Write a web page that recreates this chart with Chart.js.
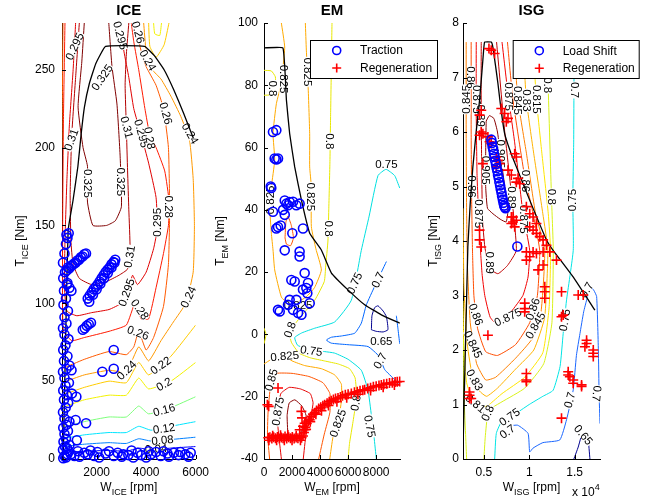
<!DOCTYPE html>
<html><head><meta charset="utf-8">
<script src="https://cdn.jsdelivr.net/npm/chart.js@4.4.1/dist/chart.umd.min.js"></script>
<style>
html,body{margin:0;padding:0;background:#fff;}
#wrap{position:relative;width:656px;height:502px;background:#fff;overflow:hidden;}
canvas{position:absolute;top:0;}
</style></head><body>
<div id="wrap">
<canvas id="cIce" width="215" height="502" style="left:0px"></canvas>
<canvas id="cEm" width="240" height="502" style="left:205px"></canvas>
<canvas id="cIsg" width="236" height="502" style="left:420px"></canvas>
</div>
<script>
const FONT = '"Liberation Sans", Arial, Helvetica, sans-serif';

/* ================= ICE ================= */
const iceXTicks = [2000, 4000, 6000];
const iceYTicks = [0, 50, 100, 150, 200, 250];
const iceMaxTorque = [[650,0],[750,80],[848,147],[1045,166],[1243,188],[1376,209],[1506,226],[1703,241],[1967,254],[2361,265],[3937,265],[4331,259],[4725,250],[5119,237],[5513,222],[5907,206]];
const iceOperating = [
 [960,3],[1100,2],[1240,5],[1310,1.5],[1500,4],[1640,3],[1750,5.5],[1900,2],[2030,4.5],[2100,1],[2360,3.5],[2500,5],[2690,2],[2850,4],[3015,1.5],[3080,3],[3280,2.5],[3410,5.5],[3480,1],[3650,4],[3800,2.5],[4000,1],[4100,5],[4200,3],[4400,4.5],[4590,2],[4700,5],[4860,3.5],[4920,1.5],[5120,4],[5310,2.5],[5380,4.5],[5580,3],[5710,1.5],[5800,4],
 [650,0.5],[700,2],[760,1],[820,3],[880,5],[640,6],[720,8],[800,7],[900,9],[660,11],[760,13],[700,16],[840,18],[650,20],[780,22],[700,26],[900,24],[640,30],[750,33],[850,36],[680,38],[800,41],[650,44],[740,47],[880,49],[700,52],[640,56],[780,58],[900,60],[680,63],[820,66],[650,70],[740,73],[860,77],[700,80],[640,84],[780,87],[700,91],[840,95],[660,99],[760,103],[680,108],[800,112],[650,116],[720,120],[640,126],[700,132],[760,138],[820,142],[870,145],[780,144],
 [1180,40],[1000,42],[1573,23],[985,57],[2230,56],[2690,58],[2690,70],[1150,25],[1200,12],[900,110],[980,108],[820,113],
 [790,121],[840,123],[900,122.5],[960,124],[1020,124.5],[1090,125.5],[1150,126],[1220,127.5],[1290,128],[1360,129.5],[1430,130],[1500,131.5],[1570,132],
 [1640,103],[1720,105],[1800,107],[1880,109],[1960,110.5],[2040,112],[2120,114],[2200,116],[2280,118],[2360,120],[2440,121.5],[2520,123],[2600,125],[2680,126.5],[2750,128],
 [1700,101],[1850,105.5],[2000,109],[2150,112.5],[2300,116],[2450,119.5],[2600,123],[2720,126],
 [1440,83],[1520,84],[1600,85.5],[1680,86.5],[1770,87.5]
];
const ice_004 = [[600,4],[1500,5],[2500,5.5],[3200,5],[3700,7],[4200,6],[5000,7],[6000,8]];
const ice_008 = [[600,8],[1500,9.5],[2500,10.5],[3200,10],[3700,13],[4200,11.5],[5000,12.5],[6000,14]];
const ice_012 = [[600,13],[1500,15.5],[2500,17],[3200,17],[3700,21],[4200,18.5],[5000,21],[6000,24]];
const ice_016 = [[600,20],[1500,24],[2500,27],[3200,27],[3700,34],[4100,29],[5000,33],[6000,40]];
const ice_020 = [[600,33],[1500,38],[2500,41],[3200,41],[3700,52],[4100,45],[5000,50],[6000,62]];
const ice_020b = [[4300,280],[4350,273],[4550,272],[4620,280]];
const ice_022 = [[600,41],[1500,46],[2500,50],[3200,49],[3700,62],[4100,54],[5000,66],[6000,86]];
const ice_022b = [[4100,280],[4150,265],[4400,258],[4725,266],[4922,280]];
const ice_024 = [[600,49],[1500,54],[2500,57],[3200,56],[3700,72],[4100,63],[4600,76],[5100,88],[5600,100],[5900,120],[5950,150],[5900,180],[5750,205],[5400,220],[5000,233],[4600,244],[4250,250],[4000,262],[3900,280]];
const ice_026 = [[600,58],[1500,64],[2500,69],[3200,67],[3500,72],[3700,82],[4000,70],[4300,78],[4700,98],[4900,125],[4950,160],[4900,200],[4700,225],[4400,240],[4000,252],[3750,265],[3650,280]];
const ice_026b = [[640,280],[615,230],[600,200]];
const ice_028 = [[720,280],[660,220],[630,160],[620,110],[660,82],[1000,76],[1500,78],[2500,82],[3200,86],[3550,100],[3800,90],[4100,90],[4400,110],[4700,132],[4900,150],[4930,165],[4750,185],[4400,200],[4150,208],[3950,225],[3700,250],[3500,268],[3400,280]];
const ice_0295 = [[1150,280],[1050,250],[900,215],[800,180],[720,140],[700,110],[800,95],[1200,92],[1800,94],[2500,96],[3000,100],[3250,106],[3450,118],[3650,112],[4000,120],[4300,135],[4450,148],[4400,168],[4100,190],[3800,208],[3500,225],[3300,245],[3100,262],[2950,280]];
const ice_031 = [[1300,280],[1150,245],[990,207],[930,170],[960,140],[1050,125],[1300,116],[1800,112],[2400,114],[2900,118],[3250,122],[3350,135],[3300,160],[3250,185],[3200,213],[3150,240],[3200,260],[3300,280]];
const ice_0325 = [[1500,280],[1400,255],[1250,226],[1450,200],[1630,188],[1630,165],[1850,150],[2400,150],[2755,153],[3000,162],[2950,194],[2820,228],[2620,252],[2490,280]];
const iceContours = [[0.04,ice_004],[0.08,ice_008],[0.12,ice_012],[0.16,ice_016],[0.2,ice_020],[0.2,ice_020b],[0.22,ice_022],[0.22,ice_022b],[0.24,ice_024],[0.26,ice_026],[0.26,ice_026b],[0.28,ice_028],[0.295,ice_0295],[0.31,ice_031],[0.325,ice_0325]];
const iceLabels = [['0.24',3213,57,-45],['0.22',4591,60,-35],['0.2',4725,48,-30],['0.16',4725,31.5,-15],['0.12',4725,19.5,-8],['0.08',4660,12,-5],['0.04',4400,6.5,-3],['0.26',3673,81,20],['0.28',3740,96,55],['0.295',3213,107,-70],['0.31',3330,130,-80],['0.24',5710,104,-65],['0.325',2227,245,-55],['0.325',1630,177,90],['0.325',2975,178,90],['0.31',3213,213,75],['0.295',3804,209,75],['0.28',4134,206,80],['0.28',4922,162,90],['0.295',4450,152,-90],['0.26',4790,222,75],['0.24',4067,256,60],['0.24',5774,209,60],['0.26',3673,274,75],['0.295',2950,272,75],['0.295',1112,265,-65],['0.31',982,205,-70]];
const iceColors = {0.04:'#0000ff',0.08:'#0080ff',0.12:'#00e5ff',0.16:'#7dff7a',0.2:'#f2f200',0.22:'#ffcc00',0.24:'#ff9900',0.26:'#ff5a00',0.28:'#ff1a00',0.295:'#e00000',0.31:'#b30000',0.325:'#800000'};

/* ================= EM ================= */
const emXTicks = [0, 2000, 4000, 6000, 8000];
const emYTicks = [-40, -20, 0, 20, 40, 60, 80, 100];
const emMaxTorque = [[0,92],[1350,92],[1600,75.2],[1830,64.5],[2190,53.8],[2670,43.1],[3260,32.5],[4090,27.1],[4810,19.7],[5990,14.3],[7180,9.5],[8370,6.3],[9680,3.6]];
const emTraction = [[640,65],[880,65.6],[760,56.5],[880,56.2],[1000,56.5],[480,47.5],[520,47],[640,39.4],[1480,43],[1600,42],[1830,42.5],[2070,42.6],[2310,41.5],[2540,42],[1720,41.5],[1360,40],[1480,38.4],[880,34],[1000,34.5],[1190,35],[2020,32.5],[2780,34],[1480,27],[2540,26.6],[2540,25],[1950,17.5],[2190,17],[2900,19.7],[3140,16.5],[3020,14.9],[2780,14.4],[3090,13.2],[2310,11.1],[1710,9.5],[2070,7.9],[2430,6.9],[2670,6.3],[3260,10],[1000,7.9],[1120,7.4],[1830,11.1]];
const emRegen = [[300,-33.2],[420,-33],[560,-33.4],[690,-33],[820,-33.3],[960,-32.9],[1090,-33.4],[1230,-33.1],[1360,-33.3],[1500,-32.8],[1620,-33.4],[1760,-33],[1890,-33.3],[2020,-32.9],[2150,-33.4],[2290,-33.1],[2420,-33.3],[2560,-32.8],[2680,-33.2],[2780,-32.6],
 [350,-34],[620,-32.5],[900,-34],[1180,-32.4],[1450,-34],[1700,-32.3],[2000,-34],[2300,-32.5],[2600,-34],
 [2850,-31.5],[2900,-30.6],[2950,-29.8],[3050,-28.6],[3150,-27.8],[3258,-27.4],[3380,-26.3],[3500,-25.6],[3615,-25.2],[3750,-24.4],[3900,-23.8],[4050,-23.4],[4200,-22.9],[4328,-22.6],[4500,-22.1],[4650,-21.6],[4800,-21.3],[4950,-20.9],[5100,-20.6],[5278,-20.4],[5450,-20.1],[5600,-19.7],[5800,-19.4],[6000,-19.2],[6229,-19.0],[6450,-18.6],[6650,-18.4],[6850,-18.1],[7050,-17.9],[7180,-17.8],[7400,-17.4],[7600,-17.1],[7800,-16.8],[8000,-16.6],[8200,-16.4],[8368,-16.2],[8550,-16.0],[8750,-15.8],[8950,-15.6],[9150,-15.5],[9350,-15.3],[9500,-15.2],[9675,-15.1],
 [3000,-30.5],[3300,-28],[3700,-25.6],[4100,-24.5],[4600,-22.8],[5200,-21.6],[5900,-20.3],[6700,-19.2],[7600,-18],[8500,-17],[9300,-16.2],
 [1000,-17.2],[240,-22.6],[335,-23.1],[2665,-24.7],[2711,-26.8],[2902,-28.5],[2546,-30.6],[2783,-29.5]];
const em_065 = [[7660,1.5],[7700,6],[7890,8.6],[8130,9.2],[8500,7.5],[8730,5.7],[8840,1.5],[8500,0.8],[8000,1],[7660,1.5]];
const em_070 = [[8730,23.4],[7890,15.4],[7300,9.5],[6940,3.6],[6470,0.4],[5520,-0.5],[4810,-0.9],[4450,-1.8],[4800,-2.8],[5990,-3.3],[7420,-3.9],[8200,-7],[8610,-11.3],[9320,-14.5],[9680,-16]];
const em_070b = [[9440,6],[9550,2],[9680,-3]];
const em_075 = [[9680,47],[9320,51],[8700,53],[8130,51],[7500,38],[6940,27],[6230,11],[5040,4],[3620,2],[2700,0.5],[2190,-1],[2400,-3.5],[3377,-5],[4300,-5.5],[5040,-6],[6000,-8],[6940,-11.5],[7420,-18],[7660,-26],[7850,-33],[8010,-40]];
const em_080 = [[4850,100],[4800,85],[4750,70],[4700,55],[4620,40],[4560,30],[4400,22],[4300,17],[3620,11],[2670,6],[2070,2.5],[1832,0.5],[1950,-2.5],[2500,-6],[3300,-7.5],[4300,-8.5],[5300,-9.5],[6100,-11],[6500,-14],[6600,-20],[6350,-28],[6100,-35],[6000,-40]];
const em_080b = [[0,84.8],[525,84.6],[811,82.7],[800,80],[500,77],[0,76.8]];
const em_080c = [[0,2],[150,0],[0,-3]];
const em_0825a = [[1239,100],[1477,92.3],[1358,85.9],[1239,80.6],[882,74.1],[644,64.5],[763,56],[525,47.4],[406,41],[525,32.5],[644,27.1],[763,20.7],[1238,12],[1700,10],[2427,10.5],[3000,12],[3600,15],[4090,20.7],[3700,27.5],[3377,34.6],[3377,47.4],[3258,53.8],[3258,64.5],[3139,80.6],[3020,91.3],[2949,100]];
const em_0825b = [[0,-9.5],[530,-8],[1476,-7],[2000,-8.5],[2900,-10],[4090,-11],[5040,-13],[5520,-16],[5500,-22],[5280,-28.5],[4920,-33],[4690,-40]];
const em_085 = [[400,-40],[250,-32],[300,-24],[525,-14.6],[900,-12.5],[2000,-12.5],[3200,-13.5],[4200,-15.5],[4700,-19],[4700,-25],[4300,-32],[3900,-40]];
const em_085b = [[1500,31],[1560,36],[1700,38],[1950,35],[2100,31],[1900,28.5],[1600,29],[1500,31]];
const em_0875 = [[1240,-40],[1000,-30],[1000,-24.7],[1200,-19],[1800,-17],[2600,-17.5],[3300,-19],[3500,-22],[3300,-27],[3000,-32],[2800,-40]];
const em_090 = [[1700,-32],[1650,-26],[1800,-22],[2200,-21],[2700,-23],[3000,-26],[2800,-30],[2400,-33],[1900,-34],[1700,-32]];
const emContours = [[0.65,em_065],[0.7,em_070],[0.7,em_070b],[0.75,em_075],[0.8,em_080],[0.8,em_080b],[0.8,em_080c],[0.825,em_0825a],[0.825,em_0825b],[0.85,em_085],[0.85,em_085b],[0.875,em_0875],[0.9,em_090]];
const emLabels = [['0.8',644,79,90],['0.825',1380,82,90],['0.825',3139,84.3,90],['0.8',4700,62,90],['0.825',3300,44.2,90],['0.825',420,43.2,-90],['0.75',8725,54.5,0],['0.8',4600,34,90],['0.825',2427,9.5,0],['0.75',6467,16.4,-65],['0.7',8130,17.5,-65],['0.65',8368,-2.2,0],['0.8',1860,1.5,-70],['0.75',3377,-5.3,8],['0.825',1476,-7,-5],['0.85',525,-14.6,-75],['0.875',1000,-24.7,-80],['0.825',5278,-28.5,-70],['0.8',6550,-22,-80],['0.75',7536,-29.5,80],['0.7',8300,-8.5,-60]];
const emColors = {0.65:'#00008f',0.7:'#0066ff',0.75:'#00e0e0',0.8:'#e8e800',0.825:'#ffaa00',0.85:'#ff5500',0.875:'#e60000',0.9:'#8c0000'};

/* ================= ISG ================= */
const isgXTicks = [5000, 10000, 15000];
const isgYTicks = [0, 1, 2, 3, 4, 5, 6, 7, 8];
const isgMaxTorque = [[2680,0],[2870,1.39],[3050,2.6],[3234,3.89],[3500,4.7],[3787,5.36],[4150,6.0],[4525,6.58],[4710,6.95],[4890,7.32],[5080,7.65],[5815,7.65],[6000,7.55],[6300,7.2],[6550,6.89],[6900,6.4],[7290,5.97],[7900,5.65],[8580,5.36],[10050,4.75],[11900,4.02],[12630,3.83],[14840,3.34],[17240,2.73]];
const isgLoadShift = [[5820,5.86],[5890,5.80],[5960,5.73],[6040,5.67],[6110,5.60],[6190,5.54],[6260,5.47],[6340,5.41],[6410,5.34],[6490,5.28],[6560,5.21],[6640,5.15],[6710,5.08],[6790,5.02],[6860,4.95],[6940,4.89],[7010,4.82],[7090,4.76],[7160,4.70],[7240,4.65],[7310,4.62],[7380,4.60],[8690,3.9]];
const isgRegen = [[5560,7.53],[5815,7.50],[6184,7.44],[4709,6.40],[4525,6.31],[4709,6.00],[4893,5.97],[4525,5.94],[6921,6.43],[7290,6.34],[7658,6.25],[7474,6.19],[5446,5.91],[5631,5.82],[5815,5.79],[6368,5.54],[6553,5.48],[6737,5.42],[6368,5.36],[4893,5.42],[8396,5.60],[8580,5.54],[7658,5.30],[8028,5.21],[8765,5.15],[8949,5.05],[8580,5.08],[8028,4.44],[8580,4.38],[8212,4.35],[9686,4.63],[10055,4.50],[10424,4.44],[10792,4.32],[10055,4.26],[10424,4.20],[10792,4.14],[11161,4.08],[11530,4.02],[11899,3.92],[4525,4.20],[4525,4.02],[4709,3.89],[8212,4.44],[8028,4.32],[8396,4.26],
 [9686,3.80],[10055,3.71],[10424,3.80],[10792,3.77],[11530,3.80],[12267,3.80],[9686,3.65],[11530,3.56],[13004,3.65],[10976,3.47],[11714,3.16],[11714,3.07],[11714,2.95],[13558,3.07],[9502,2.86],[9502,2.76],[9502,2.70],[13741,2.64],[13558,2.61],[15400,3.01],[15953,3.01],[16322,2.18],[16322,2.12],[16138,2.06],[17060,2.00],[17060,1.94],[17060,1.88],[14294,1.60],[14294,1.54],[14479,1.51],[14847,1.45],[14847,1.39],[15769,1.36],[15769,1.33],[5446,2.27],[9686,1.57],[9686,1.45],[9686,1.42],[13558,0.75],[3419,1.23],[3419,1.17],[3603,1.11],[3419,1.11]];
const isg_065a = [[14920,0],[15400,0.22],[15700,0.4]];
const isg_065b = [[16500,0.38],[16690,0]];
const isg_070 = [[7000,0.4],[7840,0.6],[8730,0.62],[9870,0.47],[10050,0.13],[10420,0.2],[11500,0.3],[13370,0.35],[14110,0.72],[14850,1.27],[15200,1.9],[15590,2.3],[16000,2.7],[16330,2.92],[16700,3.16],[17100,3.1],[17430,2.98],[17620,2.0],[17700,1.2],[17800,0.65]];
const isg_075 = [[6190,0],[6370,0.47],[7000,0.7],[8210,0.8],[10000,1.0],[11500,1.15],[12630,1.26],[13400,1.7],[13740,2.3],[14100,2.9],[14850,3.83],[14800,4.75],[14900,5.8],[14950,7.65]];
const isg_080 = [[5000,0],[5150,0.4],[5440,0.84],[6000,0.95],[7000,1.05],[9500,1.3],[11600,1.75],[12500,2.5],[12650,3.83],[12450,4.81],[12080,6.86],[11900,7.65]];
const isg_080b = [[2750,2.2],[2850,1.0],[3000,0.4],[3100,0]];
const isg_0815 = [[2700,2.9],[2800,2.0],[3100,1.4],[3700,1.1],[4340,0.96],[5000,0.95],[5600,1.0],[7000,1.2],[9500,1.5],[11500,1.95],[12200,2.8],[12350,3.83],[12100,4.5],[11400,5.6],[10790,6.6],[10400,7.65]];
const isg_083 = [[2700,4.6],[2800,3.2],[3100,2.2],[3700,1.55],[4500,1.25],[5300,1.15],[6500,1.3],[8500,1.65],[10500,2.0],[11700,2.6],[12050,3.83],[11500,4.5],[10500,5.6],[9690,6.58],[9300,7.65]];
const isg_0845 = [[3050,7.65],[3050,6.0],[3100,4.5],[3200,3.5],[3500,2.5],[4200,1.75],[5200,1.45],[6300,1.5],[8500,1.85],[10300,2.2],[11300,2.7],[11700,3.83],[10700,4.5],[9700,5.6],[8760,6.58],[8300,7.65]];
const isg_086 = [[3600,7.65],[3600,6.0],[3650,4.8],[3750,3.8],[3900,3.0],[4300,2.4],[5200,1.97],[6500,1.9],[8500,2.1],[10050,2.5],[10900,3.0],[11150,3.83],[10300,4.6],[9500,5.18],[8200,6.6],[7600,7.65]];
const isg_0875 = [[4160,7.65],[4150,6.5],[4250,5.2],[4500,4.2],[4800,3.4],[5100,3.0],[5700,2.6],[6600,2.45],[8000,2.7],[9300,3.0],[9870,3.34],[10050,3.83],[9320,4.5],[8400,5.8],[7660,6.7],[7000,7.65]];
const isg_089 = [[4710,7.65],[4700,6.8],[4750,5.5],[4850,4.4],[5100,3.9],[5600,3.5],[6550,3.4],[7600,3.55],[8580,3.83],[8030,4.87],[7300,6.0],[6400,7.65]];
const isg_0905 = [[5250,6.2],[5600,6.3],[6100,6.25],[6500,6.0],[6900,5.5],[7300,5.0],[7650,4.55],[7450,4.35],[6800,4.4],[6000,4.5],[5400,4.6],[5200,5.0],[5200,5.6],[5250,6.2]];
const isgContours = [[0.65,isg_065a],[0.65,isg_065b],[0.7,isg_070],[0.75,isg_075],[0.8,isg_080],[0.8,isg_080b],[0.815,isg_0815],[0.83,isg_083],[0.845,isg_0845],[0.86,isg_086],[0.875,isg_0875],[0.89,isg_089],[0.905,isg_0905]];
const isgLabels = [['0.845',3080,6.6,-90],['0.86',3600,7.0,90],['0.875',4160,6.6,90],['0.89',4700,6.3,90],['0.86',3620,5.0,90],['0.875',4480,4.5,90],['0.905',5220,5.3,90],['0.905',6800,5.6,90],['0.89',8100,4.8,90],['0.875',7700,6.65,90],['0.845',8760,6.58,90],['0.83',9690,6.58,90],['0.815',10790,6.6,90],['0.8',12080,6.86,90],['0.7',14980,6.77,90],['0.75',14800,4.75,-90],['0.8',12450,4.81,90],['0.86',9600,5.1,90],['0.875',9400,4.4,90],
 ['0.89',5631,3.6,90],['0.875',7660,2.6,-25],['0.86',4100,2.65,70],['0.86',10400,2.75,-70],['0.845',3790,2.1,65],['0.845',10700,2.45,-60],['0.83',3970,1.45,60],['0.815',4340,0.98,40],['0.8',5440,0.84,-65],['0.75',7840,0.77,-35],['0.7',7600,0.5,-35],['0.75',13926,2.55,-80],['0.7',14480,1.08,-75],['0.7',17430,1.2,95],['0.7',16330,3.1,-60],['0.65',15960,0.44,50]];
const isgColors = {0.65:'#00008f',0.7:'#1a66ff',0.75:'#00e5e5',0.8:'#d9f21a',0.815:'#ffe600',0.83:'#ffb300',0.845:'#ff8000',0.86:'#ff4d00',0.875:'#f20000',0.89:'#c00000',0.905:'#880000'};

/* ================= drawing helpers ================= */
function toXY(a){ return a.map(p => ({x:p[0], y:p[1]})); }

function drawRich(ctx, parts, x, y, align, rotate){
  ctx.save();
  ctx.translate(x, y);
  if (rotate) ctx.rotate(-Math.PI/2);
  const fontOf = k => (k ? '9px ' : '12px ') + FONT;
  const widths = parts.map(p => { ctx.font = fontOf(p[1]); return ctx.measureText(p[0]).width; });
  const total = widths.reduce((s,w) => s + w, 0);
  let cx = align === 'center' ? -total/2 : (align === 'right' ? -total : 0);
  ctx.textAlign = 'left'; ctx.textBaseline = 'alphabetic'; ctx.fillStyle = '#000';
  parts.forEach((p,i) => {
    ctx.font = fontOf(p[1]);
    const dy = p[1] === 1 ? 4 : (p[1] === 2 ? -6 : 0);
    ctx.fillText(p[0], cx, dy);
    cx += widths[i];
  });
  ctx.restore();
}

function drawLegend(ctx, L, off){
  const x = L.box[0] - off, y = L.box[1];
  ctx.fillStyle = '#fff'; ctx.fillRect(x, y, L.box[2], L.box[3]);
  ctx.strokeStyle = '#000'; ctx.lineWidth = 1; ctx.strokeRect(x + 0.5, y + 0.5, L.box[2], L.box[3]);
  L.items.forEach((it, i) => {
    const my = L.rows[i], mx = L.markerX - off;
    ctx.lineWidth = 1.6;
    ctx.beginPath();
    if (it[0] === 'circle') { ctx.strokeStyle = '#0000ff'; ctx.arc(mx, my, 4, 0, 2*Math.PI); }
    else { ctx.strokeStyle = '#ff0000'; ctx.moveTo(mx-4.5, my); ctx.lineTo(mx+4.5, my); ctx.moveTo(mx, my-4.5); ctx.lineTo(mx, my+4.5); }
    ctx.stroke();
    ctx.fillStyle = '#000'; ctx.font = '12px ' + FONT; ctx.textAlign = 'left'; ctx.textBaseline = 'middle';
    ctx.fillText(it[1], L.textX - off, my + 0.5);
  });
}

function makeOverlay(spec){
  return {
    id: 'overlay',
    beforeDatasetDraw(chart, args){
      if (args.index !== spec.boundaryIndex) return;
      const ctx = chart.ctx, xs = chart.scales.x, ys = chart.scales.y;
      ctx.save();
      ctx.font = '11.5px ' + FONT; ctx.textAlign = 'center'; ctx.textBaseline = 'middle';
      spec.labels.forEach(l => {
        const px = xs.getPixelForValue(l[1]), py = ys.getPixelForValue(l[2]);
        ctx.save(); ctx.translate(px, py); ctx.rotate(l[3]*Math.PI/180);
        const w = ctx.measureText(l[0]).width;
        ctx.fillStyle = '#fff'; ctx.fillRect(-w/2 - 0.5, -4, w + 1, 8);
        ctx.fillStyle = '#000'; ctx.fillText(l[0], 0, 0.5);
        ctx.restore();
      });
      ctx.restore();
    },
    afterDraw(chart){
      const ctx = chart.ctx, a = chart.chartArea, off = spec.offset;
      const xs = chart.scales.x, ys = chart.scales.y;
      ctx.save();
      ctx.strokeStyle = '#000'; ctx.lineWidth = 1;
      ctx.beginPath();
      spec.xticks.forEach(v => { const p = Math.round(xs.getPixelForValue(v)) + 0.5; ctx.moveTo(p, a.bottom); ctx.lineTo(p, a.bottom - 4); });
      spec.yticks.forEach(v => { const p = Math.round(ys.getPixelForValue(v)) + 0.5; ctx.moveTo(a.left, p); ctx.lineTo(a.left + 4, p); });
      ctx.stroke();
      ctx.fillStyle = '#000'; ctx.font = 'bold 15px ' + FONT; ctx.textAlign = 'center'; ctx.textBaseline = 'alphabetic';
      ctx.fillText(spec.title, (a.left + a.right)/2, 14.5);
      drawRich(ctx, spec.xTitle, (a.left + a.right)/2, 491, 'center', false);
      drawRich(ctx, spec.yTitle, spec.yTitleX - off, (a.top + a.bottom)/2, 'center', true);
      if (spec.extra) drawRich(ctx, spec.extra.parts, spec.extra.x - off, spec.extra.y, 'left', false);
      if (spec.legend) drawLegend(ctx, spec.legend, off);
      ctx.restore();
    }
  };
}

function build(canvasId, spec){
  const ds = [];
  spec.scatters.forEach(s => ds.push({
    label: s.label, data: toXY(s.data), showLine: false,
    pointStyle: s.style, pointRadius: s.r, pointHoverRadius: s.r, pointBorderWidth: 1.6,
    pointBorderColor: s.color, pointBackgroundColor: 'rgba(0,0,0,0)',
    borderColor: s.color, backgroundColor: 'rgba(0,0,0,0)', clip: false
  }));
  spec.boundaryIndex = ds.length;
  ds.push({ data: toXY(spec.boundary), showLine: true, borderColor: '#000', borderWidth: 1.3,
    pointRadius: 0, pointHoverRadius: 0, tension: 0.1, fill: false });
  spec.contours.forEach(c => ds.push({ data: toXY(c[1]), showLine: true, borderColor: spec.colors[c[0]],
    borderWidth: 1, pointRadius: 0, pointHoverRadius: 0, tension: 0.15, fill: false }));
  const tickFont = { family: FONT, size: 12 };
  new Chart(document.getElementById(canvasId), {
    type: 'scatter',
    data: { datasets: ds },
    options: {
      responsive: false, maintainAspectRatio: false, animation: false, devicePixelRatio: 1, events: [],
      layout: { padding: { left: spec.pad[0], right: spec.pad[1], top: 23, bottom: 0 }, autoPadding: false },
      plugins: { legend: { display: false }, tooltip: { enabled: false }, title: { display: false } },
      scales: {
        x: { type: 'linear', position: 'bottom', min: spec.xRange[0], max: spec.xRange[1],
          grid: { display: false, drawTicks: false }, border: { display: true, color: '#000', width: 1 },
          ticks: { autoSkip: false, maxRotation: 0, minRotation: 0, padding: 6, color: '#000', font: tickFont,
            callback: v => spec.xFmt(v) },
          afterBuildTicks: s => { s.ticks = spec.xticks.map(v => ({ value: v })); },
          afterFit: s => { s.height = 43; } },
        y: { type: 'linear', position: 'left', min: spec.yRange[0], max: spec.yRange[1],
          grid: { display: false, drawTicks: false }, border: { display: true, color: '#000', width: 1 },
          ticks: { autoSkip: false, padding: spec.yPad, color: '#000', font: tickFont, callback: v => String(v) },
          afterBuildTicks: s => { s.ticks = spec.yticks.map(v => ({ value: v })); },
          afterFit: s => { s.width = spec.yw; } }
      }
    },
    plugins: [makeOverlay(spec)]
  });
}

build('cIce', {
  title: 'ICE', offset: 0, pad: [22, 16], yw: 40, yPad: 7,
  xRange: [600, 6000], yRange: [0, 280], xticks: iceXTicks, yticks: iceYTicks, xFmt: v => String(v),
  scatters: [{ label: 'Operating points', data: iceOperating, style: 'circle', r: 4.5, color: '#0000ff' }],
  boundary: iceMaxTorque, contours: iceContours, colors: iceColors, labels: iceLabels,
  xTitle: [['W',0],['ICE',1],[' [rpm]',0]], yTitle: [['T',0],['ICE',1],[' [Nm]',0]], yTitleX: 24
});

build('cEm', {
  title: 'EM', offset: 205, pad: [19, 45], yw: 40, yPad: 6,
  xRange: [0, 9700], yRange: [-40, 100], xticks: emXTicks, yticks: emYTicks, xFmt: v => String(v),
  scatters: [{ label: 'Traction', data: emTraction, style: 'circle', r: 4.5, color: '#0000ff' },
             { label: 'Regeneration', data: emRegen, style: 'cross', r: 5, color: '#ff0000' }],
  boundary: emMaxTorque, contours: emContours, colors: emColors, labels: emLabels,
  xTitle: [['W',0],['EM',1],[' [rpm]',0]], yTitle: [['T',0],['EM',1],[' [Nm]',0]], yTitleX: 224,
  legend: { box: [310, 40, 127, 38], markerX: 336.7, textX: 360, rows: [50.5, 68], items: [['circle','Traction'],['cross','Regeneration']] }
});

build('cIsg', {
  title: 'ISG', offset: 420, pad: [13, 56], yw: 30, yPad: 4,
  xRange: [2700, 17800], yRange: [0, 8], xticks: isgXTicks, yticks: isgYTicks, xFmt: v => String(v/10000),
  scatters: [{ label: 'Load Shift', data: isgLoadShift, style: 'circle', r: 4.5, color: '#0000ff' },
             { label: 'Regeneration', data: isgRegen, style: 'cross', r: 5, color: '#ff0000' }],
  boundary: isgMaxTorque, contours: isgContours, colors: isgColors, labels: isgLabels,
  xTitle: [['W',0],['ISG',1],[' [rpm]',0]], yTitle: [['T',0],['ISG',1],[' [Nm]',0]], yTitleX: 437,
  extra: { parts: [['x 10',0],['4',2]], x: 572, y: 496 },
  legend: { box: [512.7, 40, 126, 38], markerX: 539.3, textX: 562.7, rows: [50.7, 68.3], items: [['circle','Load Shift'],['cross','Regeneration']] }
});
</script>
</body></html>
